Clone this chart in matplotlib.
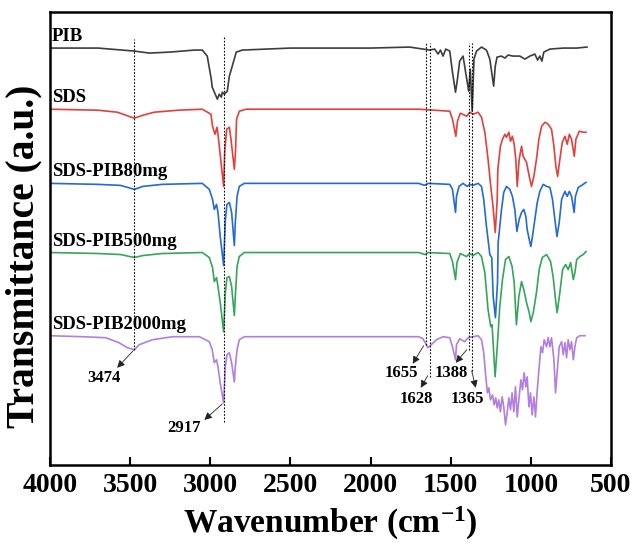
import matplotlib
matplotlib.use("Agg")
import matplotlib.pyplot as plt

plt.rcParams['font.family'] = ['Liberation Serif', 'DejaVu Serif']
plt.rcParams['font.weight'] = 'bold'
plt.rcParams['mathtext.fontset'] = 'custom'
plt.rcParams['mathtext.rm'] = 'Liberation Serif:bold'
plt.rcParams['mathtext.bf'] = 'Liberation Serif:bold'
plt.rcParams['mathtext.default'] = 'rm'

# spectra (wavenumber in cm-1, stacked transmittance in a.u.)
pib_w = [4000, 3700, 3550, 3474, 3380, 3250, 3100, 3050, 3019, 2994, 2988, 2956, 2944, 2931, 2925,
         2913, 2894, 2881, 2863, 2838, 2800, 2500, 2000, 1756, 1631, 1600, 1579, 1564, 1548, 1531,
         1506, 1489, 1470, 1458, 1444, 1423, 1413, 1388, 1378, 1366, 1355, 1339, 1308, 1277, 1256,
         1232, 1222, 1211, 1183, 1162, 1142, 1111, 1069, 1037, 1006, 975, 958, 944, 931, 919,
         881, 798, 714, 650]
pib_t = [416, 416, 414, 413, 411, 412, 414, 414, 408, 385, 377, 365, 370, 367, 372,
         370, 373, 388, 398, 412, 414, 416, 416, 417, 414, 415, 410, 414, 408, 415,
         413, 392, 372, 385, 403, 408, 398, 373, 395, 353, 405, 413, 417, 414, 405,
         378, 398, 407, 408, 406, 409, 408, 408, 405, 408, 410, 404, 408, 403, 412,
         415, 416, 416, 417]

sds_w = [4000, 3700, 3580, 3474, 3420, 3350, 3200, 3050, 2996, 2986, 2971, 2958, 2950, 2933, 2917,
         2910, 2898, 2881, 2871, 2850, 2843, 2836, 2819, 2777, 2500, 2000, 1700, 1506, 1489, 1468,
         1458, 1440, 1400, 1381, 1361, 1329, 1308, 1287, 1267, 1250, 1236, 1222, 1210, 1206, 1190,
         1177, 1162, 1152, 1137, 1127, 1115, 1104, 1094, 1085, 1073, 1058, 1048, 1027, 1010, 996,
         981, 965, 950, 933, 912, 892, 871, 856, 844, 833, 819, 804, 787, 773, 760,
         746, 729, 719, 698, 673, 656]
sds_t = [355, 354, 352, 346, 349, 352, 354, 355, 350, 338, 330, 337, 327, 302, 278,
         312, 335, 337, 325, 295, 312, 345, 353, 355, 355, 355, 355, 353, 345, 328,
         343, 351, 348, 352, 350, 352, 347, 332, 305, 278, 258, 232, 265, 295, 318,
         325, 330, 327, 332, 323, 328, 320, 305, 278, 305, 318, 308, 302, 288, 278,
         288, 305, 325, 338, 342, 340, 335, 318, 298, 288, 305, 322, 328, 320, 330,
         325, 308, 325, 333, 332, 332]

p80_w = [4000, 3700, 3560, 3474, 3420, 3300, 3050, 3006, 2986, 2975, 2961, 2952, 2938, 2917, 2906,
         2896, 2881, 2867, 2850, 2844, 2833, 2819, 2788, 2500, 2000, 1700, 1663, 1640, 1506, 1489,
         1470, 1464, 1448, 1423, 1398, 1381, 1361, 1329, 1308, 1294, 1277, 1267, 1256, 1244, 1235,
         1221, 1208, 1204, 1183, 1169, 1152, 1131, 1115, 1100, 1087, 1073, 1058, 1044, 1031, 1023,
         1010, 1000, 990, 975, 960, 944, 923, 902, 881, 865, 850, 837, 823, 808, 787,
         773, 760, 746, 730, 722, 704, 683, 656]
p80_t = [281, 280, 279, 275, 278, 280, 281, 275, 265, 255, 260, 252, 228, 199, 245,
         260, 262, 252, 219, 242, 268, 278, 281, 281, 281, 281, 279, 281, 280, 275,
         252, 268, 278, 281, 278, 280, 279, 281, 278, 265, 238, 225, 210, 207, 168,
         147, 182, 222, 255, 272, 278, 275, 268, 255, 233, 245, 252, 255, 248, 235,
         225, 218, 228, 245, 262, 273, 280, 278, 277, 265, 245, 228, 242, 265, 273,
         268, 273, 268, 252, 268, 277, 279, 282]

p500_w = [4000, 3700, 3560, 3474, 3420, 3300, 3050, 3006, 2986, 2975, 2961, 2952, 2938, 2917, 2906,
          2896, 2881, 2867, 2850, 2844, 2833, 2819, 2788, 2500, 2000, 1700, 1660, 1640, 1506, 1489,
          1470, 1461, 1440, 1402, 1381, 1361, 1329, 1308, 1287, 1267, 1250, 1242, 1223, 1208, 1194,
          1177, 1158, 1137, 1117, 1104, 1090, 1075, 1058, 1044, 1027, 1010, 1000, 985, 965, 948,
          929, 902, 877, 861, 846, 836, 819, 802, 783, 767, 752, 735, 725, 714, 694,
          673, 656]
p500_t = [212, 211, 210, 207, 209, 211, 212, 207, 197, 183, 187, 178, 162, 133, 172,
          187, 188, 178, 149, 168, 198, 208, 212, 212, 212, 212, 210, 212, 211, 203,
          185, 202, 211, 208, 211, 209, 212, 208, 192, 155, 138, 140, 88, 122, 158,
          185, 205, 208, 198, 182, 140, 168, 183, 175, 162, 152, 143, 152, 172, 195,
          207, 210, 203, 188, 165, 152, 172, 195, 200, 195, 202, 185, 192, 205, 208,
          210, 213]

p2000_w = [4000, 3800, 3652, 3569, 3517, 3474, 3444, 3361, 3236, 3069, 3006, 2988, 2975, 2961, 2952,
           2938, 2917, 2906, 2896, 2881, 2867, 2850, 2844, 2833, 2819, 2788, 2500, 2000, 1700, 1673,
           1642, 1621, 1589, 1548, 1506, 1489, 1470, 1464, 1444, 1413, 1392, 1361, 1329, 1308, 1294,
           1281, 1271, 1262, 1252, 1239, 1229, 1219, 1210, 1200, 1190, 1179, 1169, 1158, 1148, 1137,
           1127, 1117, 1106, 1096, 1085, 1075, 1062, 1052, 1042, 1031, 1023, 1012, 1002, 992, 981,
           971, 960, 948, 937, 927, 917, 902, 892, 881, 871, 856, 846, 836, 823, 808,
           798, 787, 777, 767, 756, 746, 735, 725, 714, 694, 662]
p2000_t = [129, 128, 127, 122, 117, 115, 120, 125, 128, 128, 123, 115, 102, 105, 98,
           82, 62, 98, 110, 112, 102, 83, 98, 115, 125, 128, 128, 128, 128, 126,
           117, 120, 125, 128, 127, 118, 105, 120, 126, 123, 127, 128, 129, 125, 112,
           88, 72, 77, 65, 70, 60, 67, 57, 65, 53, 68, 58, 40, 52, 67,
           55, 72, 53, 78, 48, 65, 85, 75, 92, 78, 88, 58, 72, 50, 68,
           48, 75, 98, 118, 112, 125, 118, 127, 118, 127, 105, 72, 92, 118, 123,
           110, 122, 107, 125, 115, 123, 105, 118, 127, 129, 129]

names = ['PIB', 'SDS', 'SDS-PIB80mg', 'SDS-PIB500mg', 'SDS-PIB2000mg']
colors = ['#3d3d3d', '#e3403d', '#2469d6', '#35a55c', '#b27ee0']
spectra = [(pib_w, pib_t), (sds_w, sds_t), (p80_w, p80_t), (p500_w, p500_t), (p2000_w, p2000_t)]

# marked peaks: wavenumber, dashed line top/bottom, arrow tail, arrow head, label position
peaks = [3474, 2917, 1655, 1628, 1388, 1365]
line_top = [425, 428, 421, 421, 421, 421]
line_bot = [115, 43, 120, 88, 115, 94]
arrow_tail = [(3481, 114), (2925, 61), (1669, 119), (1644, 89), (1400, 115), (1369, 94)]
arrow_head = [(3581, 97), (3037, 45), (1737, 101), (1687, 77), (1469, 102), (1344, 77)]
label_pos = [(3662, 87), (3162, 37), (1806, 92), (1712, 66), (1494, 92), (1394, 66)]

fig = plt.figure(figsize=(6.34, 5.45), dpi=100)
ax = fig.add_axes([0.0789, 0.1468, 0.8848, 0.8312])

for (w, t), c, name in zip(spectra, colors, names):
    ax.plot(w, t, color=c, lw=1.2)
    ax.text(3988, t[0] + 3, name, ha='left', va='bottom', fontsize=13.5,
            fontweight='bold', color='black')

ax.vlines(peaks, line_bot, line_top, colors='black', linestyles=(0, (1.5, 1.5)), lw=0.8)

for p, tail, head, lab in zip(peaks, arrow_tail, arrow_head, label_pos):
    ax.annotate('', xy=head, xytext=tail,
                arrowprops=dict(arrowstyle='-|>', color='#222222', lw=0.6,
                                mutation_scale=11, shrinkA=0, shrinkB=0))
    ax.text(lab[0], lab[1], str(p), ha='center', va='center', fontsize=12, fontweight='bold')

ax.set_xlim(4000, 500)
ax.set_ylim(0, 452)
ax.set_xticks([4000, 3500, 3000, 2500, 2000, 1500, 1000, 500])
ax.set_yticks([])
ax.tick_params(axis='x', direction='in', length=6, width=1.5, labelsize=20, pad=6)
for lbl in ax.get_xticklabels():
    lbl.set_fontweight('bold')
for s in ax.spines.values():
    s.set_linewidth(1.8)

ax.set_xlabel('Wavenumber (cm$^{-1}$)', fontsize=24, fontweight='bold', labelpad=5)
ax.set_ylabel('Transmittance (a.u.)', fontsize=28.5, fontweight='bold')
ax.yaxis.set_label_coords(-0.014, 0.46)

fig.savefig('out.png', dpi=100)
